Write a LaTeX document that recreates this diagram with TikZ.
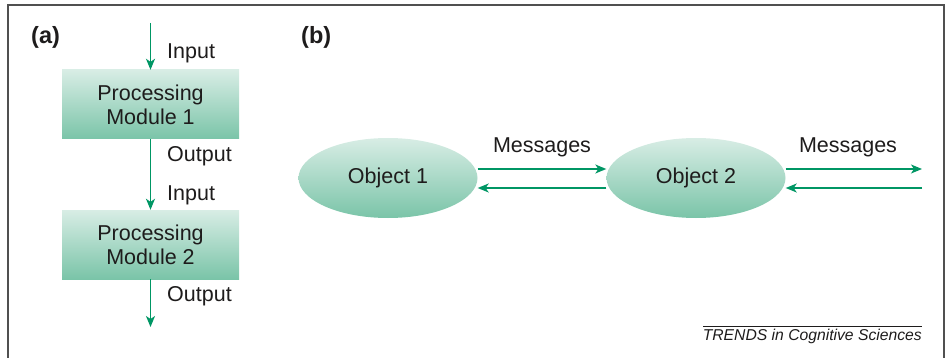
\documentclass[tikz,border=0pt]{standalone}
\usepackage{fontspec}
\setmainfont{Liberation Sans}
\usetikzlibrary{arrows.meta,shapes.geometric}
\definecolor{arrgreen}{RGB}{0,150,100}
\definecolor{txtgray}{RGB}{30,28,28}
\definecolor{filltop}{RGB}{216,237,229}
\definecolor{fillbot}{RGB}{122,196,168}
\definecolor{framegray}{RGB}{80,80,80}
\tikzset{
  arr/.style={draw=arrgreen, line width=1.4pt, -{Stealth[length=11pt,width=9pt,inset=3pt]}},
  modbox/.style={rectangle, minimum width=177pt, minimum height=69pt, inner sep=0pt,
    top color=filltop, bottom color=fillbot, draw=none, align=center,
    font=\fontsize{21.5}{24}\selectfont, text=txtgray},
  objell/.style={ellipse, minimum width=179pt, minimum height=80pt, inner sep=0pt,
    top color=filltop, bottom color=fillbot, draw=none,
    font=\fontsize{21.5}{24}\selectfont, text=txtgray},
  lbl/.style={font=\fontsize{21.5}{24}\selectfont, text=txtgray, inner sep=0pt},
  panel/.style={font=\bfseries\fontsize{23.5}{26}\selectfont, text=txtgray, inner sep=0pt},
}
\begin{document}
\begin{tikzpicture}[x=1pt,y=-1pt]
\useasboundingbox (0,0) rectangle (949,358);
\draw[framegray, line width=1.6pt] (8,360) -- (8,5) -- (944,5) -- (944,360);
% panel labels
\node[panel, anchor=west] (pa) at (31,37) {(a)};
\node[panel, anchor=west] (pb) at (301,37) {(b)};
% panel (a)
\node[modbox] (m1) at (150.5,104.5) {Processing\\Module 1};
\node[modbox] (m2) at (150.5,244.5) {Processing\\Module 2};
\coordinate (top) at (150.5,23);
\coordinate (bot) at (150.5,327);
\draw[arr] (top) -- (m1.north);
\draw[arr] (m1.south) -- (m2.north);
\draw[arr] (m2.south) -- (bot);
\node[lbl, anchor=west] (in1) at (167,53) {Input};
\node[lbl, anchor=west] (out1) at (167,156) {Output};
\node[lbl, anchor=west] (in2) at (167,195) {Input};
\node[lbl, anchor=west] (out2) at (167,296) {Output};
% panel (b)
\node[objell] (o1) at (388,178) {Object 1};
\node[objell] (o2) at (696,178) {Object 2};
\coordinate (r1) at (922,169);
\coordinate (r2) at (922,188);
\draw[arr] ([yshift=9pt]o1.east) -- ([yshift=9pt]o2.west);
\draw[arr] ([yshift=-10pt]o2.west) -- ([yshift=-10pt]o1.east);
\draw[arr] ([yshift=9pt]o2.east) -- (r1);
\draw[arr] (r2) -- ([yshift=-10pt]o2.east);
\node[lbl] (msg1) at (542,147) {Messages};
\node[lbl] (msg2) at (848,147) {Messages};
% footer
\coordinate (fl) at (703,326);
\coordinate (fr) at (922,326);
\draw[txtgray, line width=0.8pt] (fl) -- (fr);
\node[font=\itshape\fontsize{15.7}{18}\selectfont, text=txtgray, anchor=east, inner sep=0pt] (trends) at (922,336) {TRENDS in Cognitive Sciences};
\end{tikzpicture}
\end{document}
